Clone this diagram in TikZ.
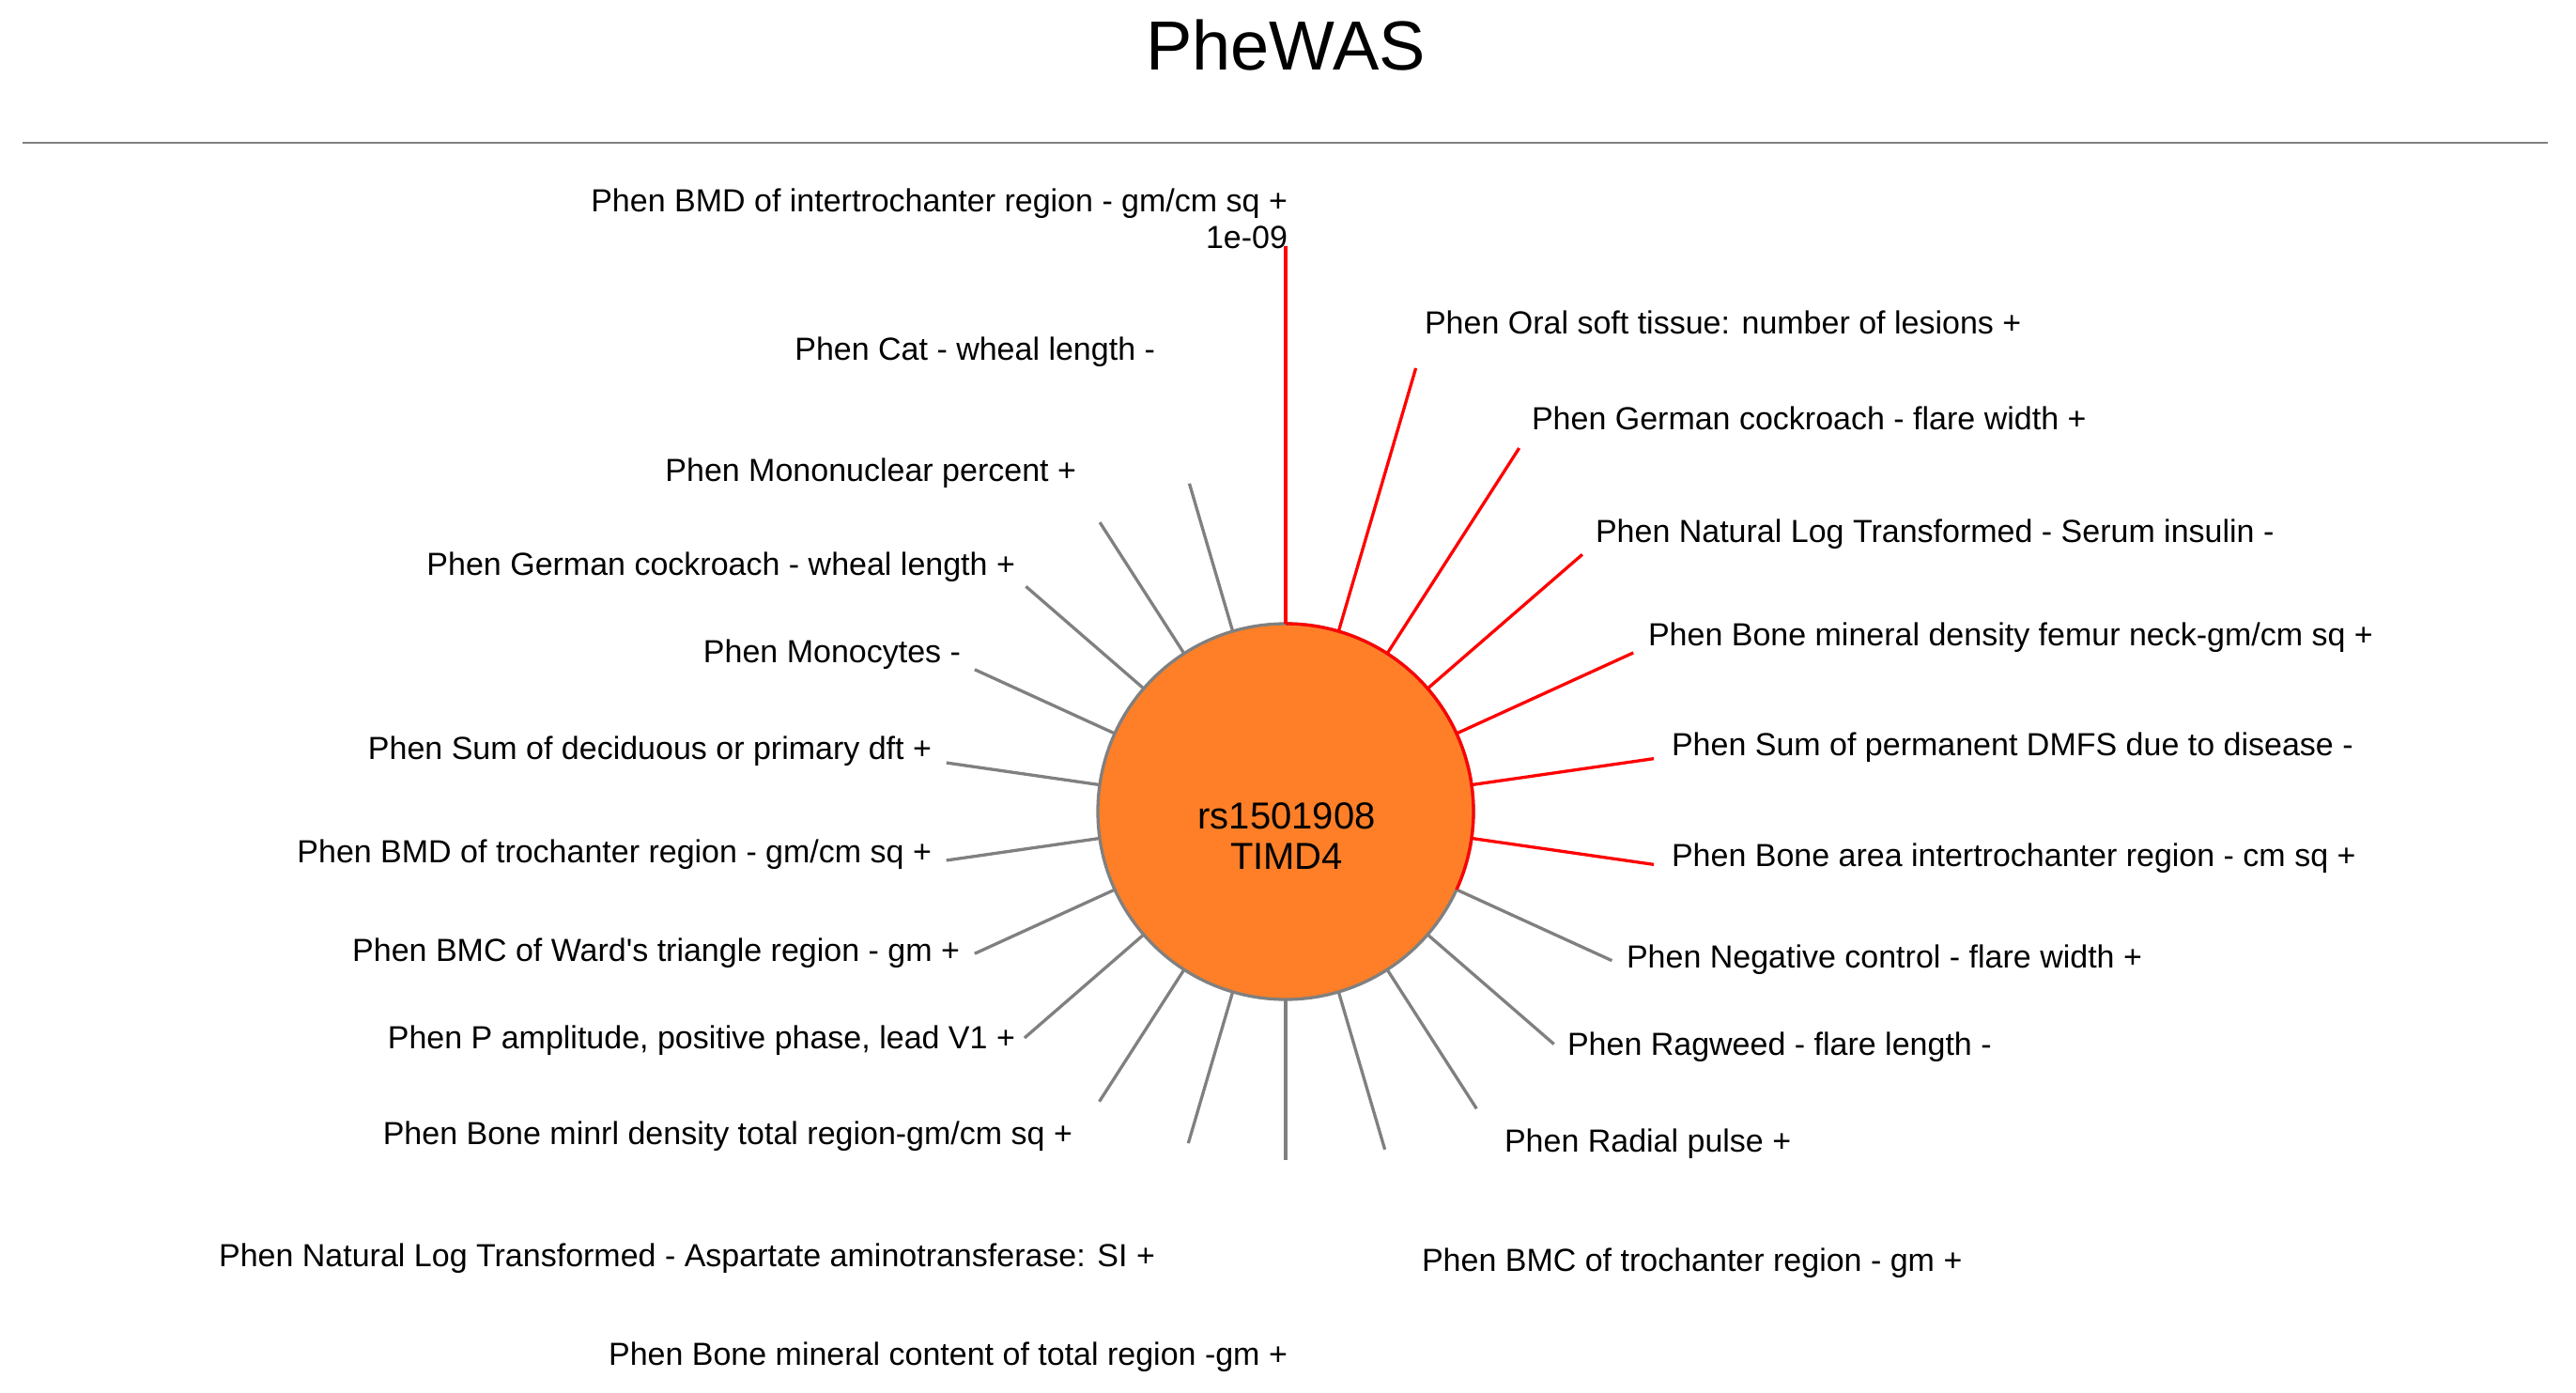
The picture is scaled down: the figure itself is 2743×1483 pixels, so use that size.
\documentclass[tikz,border=0pt]{standalone}
\usepackage{fontspec}
\setmainfont{Liberation Sans}
\definecolor{nodeorange}{RGB}{254,127,39}
\definecolor{spokegray}{RGB}{128,128,128}
\definecolor{rulegray}{RGB}{128,128,128}
\begin{document}
\begin{tikzpicture}[x=0.5pt,y=-0.5pt,
  lbl/.style={inner sep=0pt, outer sep=0pt, font=\fontsize{17pt}{20pt}\selectfont},
  rlbl/.style={lbl, anchor=base west},
  llbl/.style={lbl, anchor=base east},
  sig/.style={draw=red, line width=1.65pt},
  nonsig/.style={draw=spokegray, line width=1.65pt},
  hub/.style={circle, fill=nodeorange, draw=spokegray, line width=1.65pt, minimum size=200pt, inner sep=0pt, outer sep=0pt},
  hubtext/.style={inner sep=0pt, anchor=base, font=\fontsize{20pt}{22pt}\selectfont}
]
\useasboundingbox[fill=white] (0,0) rectangle (2743,1483);

% title and rule
\node[inner sep=0pt, anchor=base, font=\fontsize{37pt}{40pt}\selectfont] (title) at (1369,74) {PheWAS};
\coordinate (ruleL) at (24,152);
\coordinate (ruleR) at (2713,152);
\draw[rulegray, line width=0.7pt] (ruleL) -- (ruleR);

% hub
\node[hub] (c) at (1369,864) {};

% spokes
\foreach \k/\len/\st in {0/602/sig,1/492/sig,2/460/sig,3/418/sig,4/407/sig,5/396/sig,6/396/sig,
  7/382/nonsig,8/378/nonsig,9/376/nonsig,10/375/nonsig,11/371/nonsig,12/368/nonsig,13/367/nonsig,
  14/368/nonsig,15/364/nonsig,16/365/nonsig,17/365/nonsig,18/364/nonsig,19/366/nonsig,20/366/nonsig,21/364/nonsig}{
  \path (c) ++({16.363636*\k-90}:\len) coordinate (e\k);
  \draw[\st] (c) -- (e\k);
}
% red part of the hub border
\draw[red, line width=1.65pt] (c.90) arc[start angle=90, end angle=-24.55, radius=100pt];

% hub text
\node[hubtext] (snp) at (1370,882) {rs1501908};
\node[hubtext] (gene) at (1370,925) {TIMD4};

% top label
\node[llbl] (l0) at (1371,225) {Phen BMD of intertrochanter region - gm/cm sq +};
\node[llbl] (l0p) at (1371,264) {1e-09};

% right labels
\node[rlbl] (r1) at (1517,355) {Phen Oral soft tissue: number of lesions +};
\node[rlbl] (r2) at (1631,457) {Phen German cockroach - flare width +};
\node[rlbl] (r3) at (1699,577) {Phen Natural Log Transformed - Serum insulin -};
\node[rlbl] (r4) at (1755,687) {Phen Bone mineral density femur neck-gm/cm sq +};
\node[rlbl] (r5) at (1780,804) {Phen Sum of permanent DMFS due to disease -};
\node[rlbl] (r6) at (1780,922) {Phen Bone area intertrochanter region - cm sq +};
\node[rlbl] (r7) at (1732,1030) {Phen Negative control - flare width +};
\node[rlbl] (r8) at (1669,1123) {Phen Ragweed - flare length -};
\node[rlbl] (r9) at (1602,1226) {Phen Radial pulse +};
\node[rlbl] (r10) at (1514,1353) {Phen BMC of trochanter region - gm +};

% bottom and left labels
\node[llbl] (l11) at (1371,1453) {Phen Bone mineral content of total region -gm +};
\node[llbl] (l12) at (1230,1348) {Phen Natural Log Transformed - Aspartate aminotransferase: SI +};
\node[llbl] (l13) at (1142,1218) {Phen Bone minrl density total region-gm/cm sq +};
\node[llbl] (l14) at (1081,1116) {Phen P amplitude, positive phase, lead V1 +};
\node[llbl] (l15) at (1022,1023) {Phen BMC of Ward\textquotesingle s triangle region - gm +};
\node[llbl] (l16) at (992,918) {Phen BMD of trochanter region - gm/cm sq +};
\node[llbl] (l17) at (992,808) {Phen Sum of deciduous or primary dft +};
\node[llbl] (l18) at (1023,705) {Phen Monocytes -};
\node[llbl] (l19) at (1081,612) {Phen German cockroach - wheal length +};
\node[llbl] (l20) at (1146,512) {Phen Mononuclear percent +};
\node[llbl] (l21) at (1230,383) {Phen Cat - wheal length -};
\end{tikzpicture}
\end{document}
